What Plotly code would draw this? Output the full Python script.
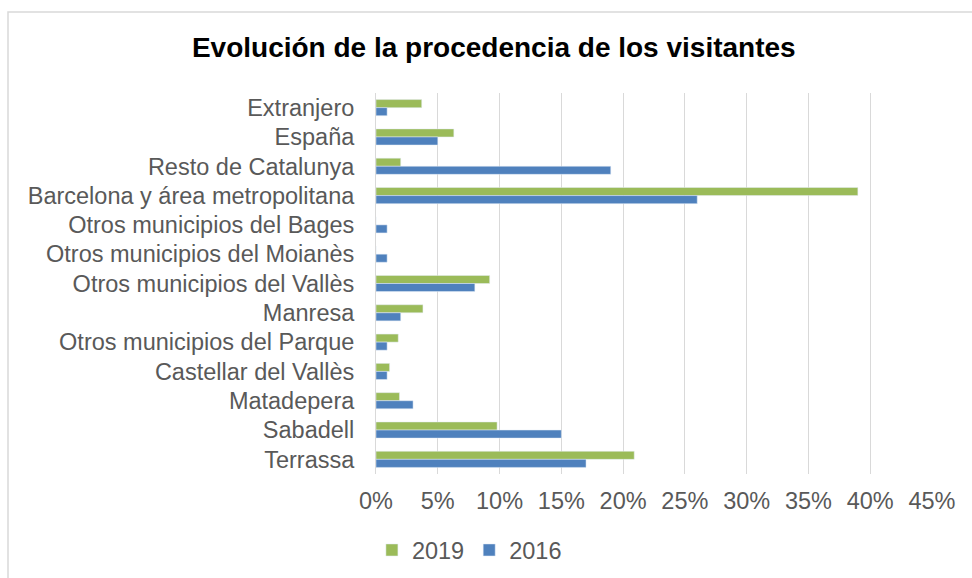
import plotly.graph_objects as go

categorias = [
    "Extranjero",
    "España",
    "Resto de Catalunya",
    "Barcelona y área metropolitana",
    "Otros municipios del Bages",
    "Otros municipios del Moianès",
    "Otros municipios del Vallès",
    "Manresa",
    "Otros municipios del Parque",
    "Castellar del Vallès",
    "Matadepera",
    "Sabadell",
    "Terrassa",
]
valores_2019 = [3.7, 6.3, 2.0, 39.0, 0, 0, 9.2, 3.8, 1.8, 1.1, 1.9, 9.8, 20.9]
valores_2016 = [0.9, 5.0, 19.0, 26.0, 0.9, 0.9, 8.0, 2.0, 0.9, 0.9, 3.0, 15.0, 17.0]
ticks_x = [0, 5, 10, 15, 20, 25, 30, 35, 40, 45]
ticks_txt = [f"{t}%" for t in ticks_x]

verde = "#9BBB59"
azul = "#4F81BD"
gris = "#595959"

fig = go.Figure()

fig.add_trace(go.Bar(
    y=categorias,
    x=valores_2019,
    name="2019",
    orientation="h",
    marker=dict(color=verde),
))

fig.add_trace(go.Bar(
    y=categorias,
    x=valores_2016,
    name="2016",
    orientation="h",
    marker=dict(color=azul),
))

fig.update_layout(
    width=972,
    height=578,
    margin=dict(l=376, r=40, t=93, b=104, autoexpand=False),
    paper_bgcolor="white",
    plot_bgcolor="white",
    barmode="group",
    bargap=0.45,
    bargroupgap=0,
    font=dict(family="Liberation Sans, Arial, sans-serif", size=23.5, color=gris),
    title=dict(
        text="<b>Evolución de la procedencia de los visitantes</b>",
        font=dict(size=28, color="black"),
        x=0.508,
        xanchor="center",
        xref="container",
        y=1 - 47 / 578,
        yanchor="middle",
        yref="container",
    ),
    legend=dict(
        orientation="h",
        x=0.168,
        xanchor="center",
        y=-0.2,
        yanchor="middle",
        font=dict(size=23.5, color=gris),
        itemwidth=30,
        tracegroupgap=0,
    ),
    showlegend=True,
)

fig.update_xaxes(
    range=[0, 45],
    tickvals=ticks_x,
    ticktext=ticks_txt,
    showgrid=True,
    gridcolor="#D9D9D9",
    gridwidth=1,
    zeroline=False,
    showline=False,
    ticklabelstandoff=10,
)

fig.update_yaxes(
    type="category",
    autorange="reversed",
    tickmode="array",
    tickvals=categorias,
    ticktext=categorias,
    showline=True,
    linecolor="#D9D9D9",
    linewidth=1,
    showgrid=False,
    ticklabelstandoff=16,
)

# marco gris del gráfico
fig.add_shape(
    type="rect",
    xref="paper",
    yref="paper",
    x0=(8 - 376) / 556,
    x1=(985 - 376) / 556,
    y0=(474 - 595) / 381,
    y1=(474 - 12) / 381,
    line=dict(color="#D9D9D9", width=1.5),
    layer="below",
)

fig.write_html(
    "out.html",
    config={"displayModeBar": False},
    post_script="document.body.style.margin='0';document.body.style.overflow='hidden';",
)
